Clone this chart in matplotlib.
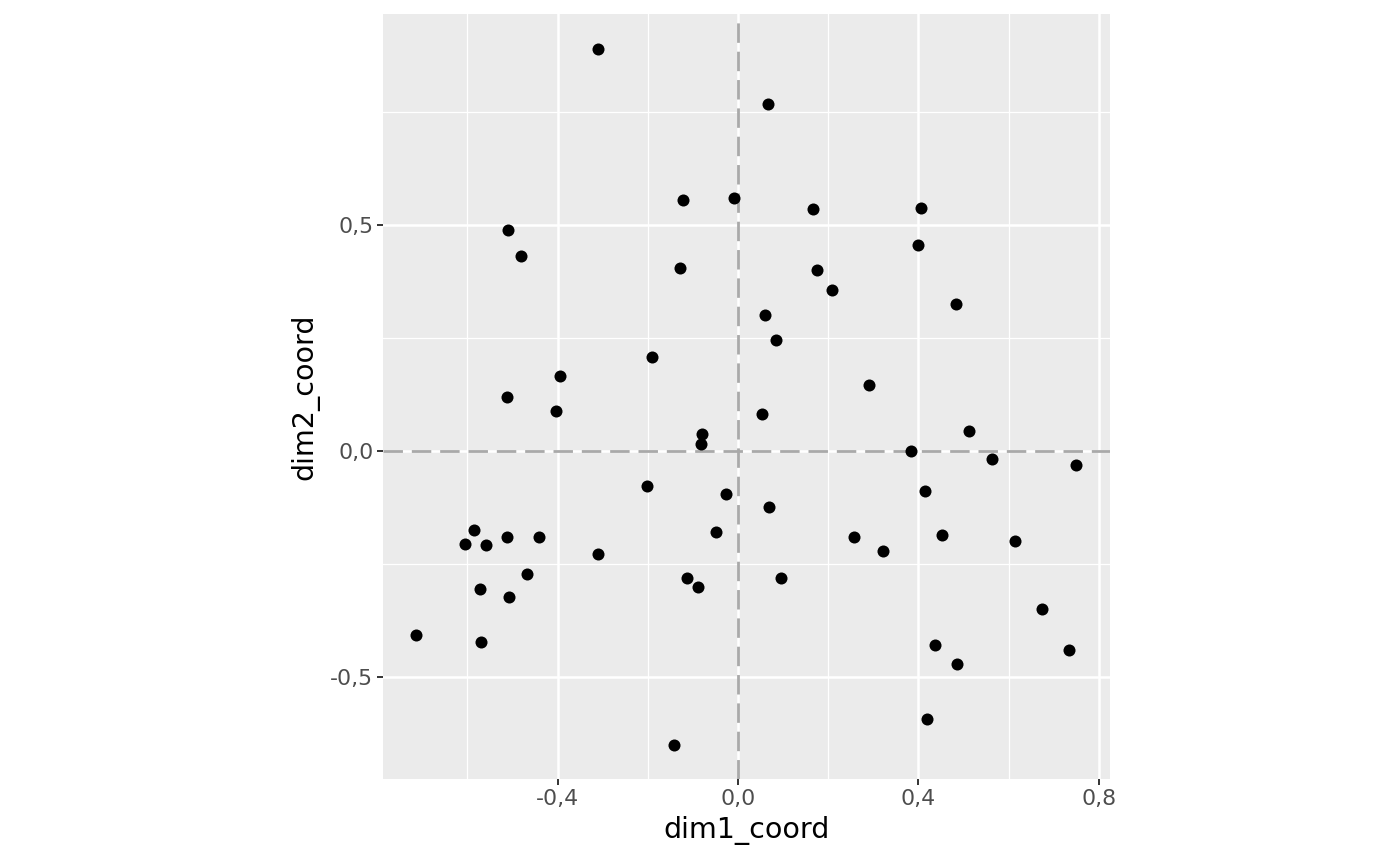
import matplotlib
matplotlib.use("Agg")
import matplotlib.pyplot as plt
from matplotlib.ticker import FixedLocator, FuncFormatter

# Coordinates
dim1_coord = [-0.310, 0.067, -0.122, -0.009, 0.166, 0.406, -0.510, -0.481, 0.399, -0.129,
              0.175, 0.208, 0.483, 0.060, 0.084, -0.191, -0.395, 0.290, -0.512, -0.404,
              0.053, -0.080, 0.512, -0.082, 0.384, 0.563, 0.749, -0.202, -0.027, 0.415,
              0.069, -0.049, -0.585, -0.605, -0.559, -0.512, -0.441, 0.257, 0.452, 0.614,
              -0.310, 0.322, -0.468, -0.113, 0.095, -0.089, -0.572, -0.508, 0.674, -0.714,
              -0.570, 0.437, 0.734, 0.486, 0.419, -0.142]
dim2_coord = [0.889, 0.768, 0.555, 0.560, 0.535, 0.538, 0.489, 0.431, 0.456, 0.405,
              0.400, 0.356, 0.325, 0.301, 0.246, 0.208, 0.166, 0.146, 0.119, 0.088,
              0.082, 0.038, 0.044, 0.015, 0.000, -0.018, -0.031, -0.077, -0.095, -0.088,
              -0.124, -0.179, -0.175, -0.206, -0.208, -0.190, -0.190, -0.190, -0.186, -0.199,
              -0.228, -0.221, -0.272, -0.281, -0.281, -0.301, -0.305, -0.323, -0.350, -0.407,
              -0.423, -0.429, -0.440, -0.471, -0.593, -0.650]

x_major = [-0.4, 0.0, 0.4, 0.8]
x_minor = [-0.6, -0.2, 0.2, 0.6]
y_major = [-0.5, 0.0, 0.5]
y_minor = [-0.25, 0.25, 0.75]

fig = plt.figure(figsize=(14, 8.65), dpi=100)
ax = fig.add_axes([383 / 1400, 1 - 779 / 865, (1110 - 383) / 1400, (779 - 14) / 865])
ax.set_facecolor("#EBEBEB")
ax.set_xlim(-0.787, 0.825)
ax.set_ylim(-0.726, 0.967)

# ggplot-like grid
for v in x_minor:
    ax.axvline(v, color="white", lw=0.9, zorder=0)
for v in y_minor:
    ax.axhline(v, color="white", lw=0.9, zorder=0)
for v in x_major:
    ax.axvline(v, color="white", lw=1.8, zorder=0)
for v in y_major:
    ax.axhline(v, color="white", lw=1.8, zorder=0)

ax.axvline(0, color="#A9A9A9", lw=2.0, ls=(0, (7, 3.2)), zorder=1)
ax.axhline(0, color="#A9A9A9", lw=2.0, ls=(0, (7, 3.2)), zorder=1)

ax.scatter(dim1_coord, dim2_coord, s=75, color="black", linewidths=0, zorder=3)


def comma(v, pos):
    if abs(v) < 1e-9:
        v = 0.0
    return f"{v:.1f}".replace(".", ",")


fmt = FuncFormatter(comma)
ax.xaxis.set_major_locator(FixedLocator(x_major))
ax.yaxis.set_major_locator(FixedLocator(y_major))
ax.xaxis.set_major_formatter(fmt)
ax.yaxis.set_major_formatter(fmt)
ax.tick_params(length=4, width=1.4, color="#333333", labelcolor="#4D4D4D", labelsize=15.8, pad=3)

for s in ax.spines.values():
    s.set_visible(False)

ax.set_xlabel("dim1_coord", fontsize=20.5, labelpad=5)
ax.set_ylabel("dim2_coord", fontsize=20.5, labelpad=8)

fig.savefig("out.png", dpi=100)
